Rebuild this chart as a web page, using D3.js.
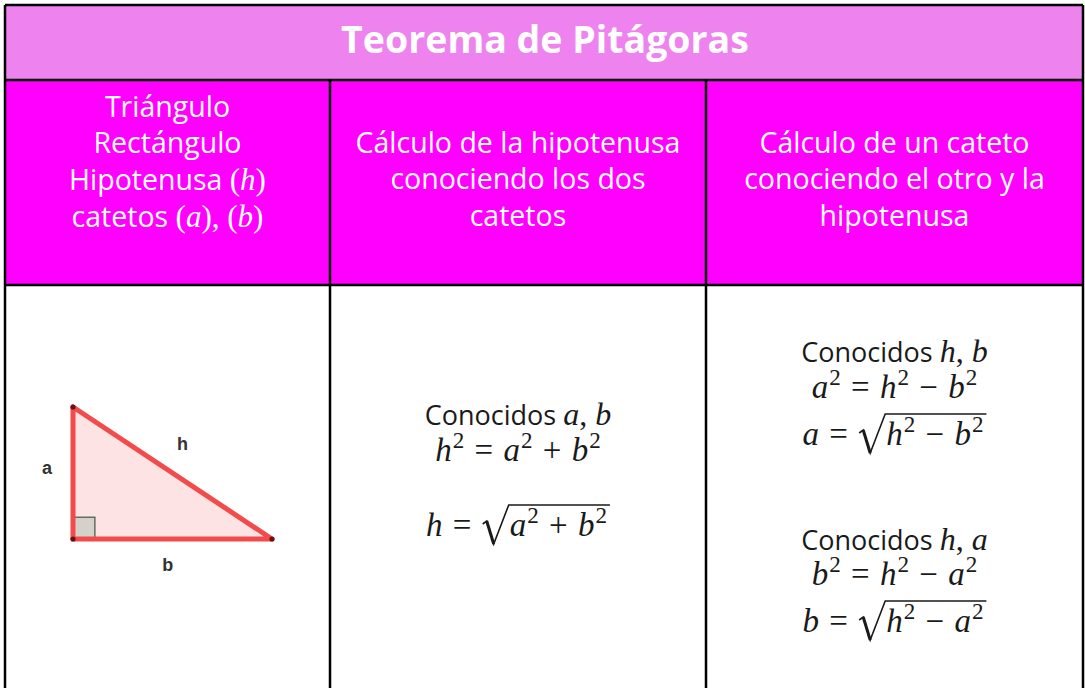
<!DOCTYPE html>
<html>
<head>
<meta charset="utf-8">
<script src="https://cdn.jsdelivr.net/npm/d3@7"></script>
<style>
  html, body { margin: 0; padding: 0; background: #fff; }
  svg { display: block; }
</style>
</head>
<body>
<svg id="chart" width="1085" height="688"></svg>
<script>
// ---------------- DATA ----------------
const title = "Teorema de Pitágoras";

// header cells: each line is a list of [text, kind]  kind: "t" sans text, "v" italic math var, "p" upright math
const headerCol1 = [
  [["Triángulo", "t"]],
  [["Rectángulo", "t"]],
  [["Hipotenusa ", "t"], ["(", "p"], ["h", "v"], [")", "p"]],
  [["catetos ", "t"], ["(", "p"], ["a", "v"], ["), (", "p"], ["b", "v"], [")", "p"]]
];
const headerCol2 = [
  [["Cálculo de la hipotenusa", "t"]],
  [["conociendo los dos", "t"]],
  [["catetos", "t"]]
];
const headerCol3 = [
  [["Cálculo de un cateto", "t"]],
  [["conociendo el otro y la", "t"]],
  [["hipotenusa", "t"]]
];

// triangle legs (relative units) and side labels
const legA = 2;          // vertical cateto
const legB = 3;          // horizontal cateto
const sideLabels = ["a", "h", "b"];

// formulas
const knownCol2 = ["a", "b"];
const relCol2 = { lhs: "h", rhs: ["a", "+", "b"] };
const knownCol3a = ["h", "b"];
const relCol3a = { lhs: "a", rhs: ["h", "−", "b"] };
const knownCol3b = ["h", "a"];
const relCol3b = { lhs: "b", rhs: ["h", "−", "a"] };

// ---------------- LAYOUT ----------------
const svg = d3.select("#chart");
const W = 1085, H = 688;
const colX = [5, 330, 706, 1083];
const rowY = [5, 80, 285, 700];
const sans = "'Open Sans', 'Noto Sans', sans-serif";
const serif = "'Liberation Serif', 'DejaVu Serif', serif";
const HEAD = 28.5;
const MATH = 33;
const SUP = 13;
const OPPAD = 2;

// backgrounds
svg.append("rect").attr("x", colX[0]).attr("y", rowY[0]).attr("width", colX[3] - colX[0]).attr("height", rowY[1] - rowY[0]).attr("fill", "#EE82EE");
svg.append("rect").attr("x", colX[0]).attr("y", rowY[1]).attr("width", colX[3] - colX[0]).attr("height", rowY[2] - rowY[1]).attr("fill", "#FF00FF");
svg.append("rect").attr("x", colX[0]).attr("y", rowY[2]).attr("width", colX[3] - colX[0]).attr("height", rowY[3] - rowY[2]).attr("fill", "#FFFFFF");

// title
svg.append("text")
  .attr("x", (colX[0] + colX[3]) / 2 + 1).attr("y", 53)
  .attr("text-anchor", "middle")
  .attr("font-family", sans).attr("font-weight", 700).attr("font-size", 37.5)
  .attr("fill", "#fff")
  .text(title);

// header text
function headerCell(lines, cx, baselines) {
  lines.forEach((parts, i) => {
    const t = svg.append("text")
      .attr("x", cx).attr("y", baselines[i])
      .attr("text-anchor", "middle").attr("fill", "#fff");
    parts.forEach(([s, k]) => {
      t.append("tspan")
        .attr("font-family", k === "t" ? sans : serif)
        .attr("font-style", k === "v" ? "italic" : "normal")
        .attr("font-size", k === "t" ? HEAD : 31)
        .text(s);
    });
  });
}
headerCell(headerCol1, (colX[0] + colX[1]) / 2, [117, 153, 190, 227]);
headerCell(headerCol2, (colX[1] + colX[2]) / 2, [153, 189, 226]);
headerCell(headerCol3, (colX[2] + colX[3]) / 2, [153, 189, 226]);

// ---------------- TRIANGLE ----------------
const tx = d3.scaleLinear().domain([0, legB]).range([73, 272]);
const ty = d3.scaleLinear().domain([0, legA]).range([539, 407]);
const verts = [[0, legA], [0, 0], [legB, 0]];
const tri = svg.append("g");
tri.append("path")
  .attr("d", d3.line().x(d => tx(d[0])).y(d => ty(d[1]))(verts) + "Z")
  .attr("fill", "#FDE3E3").attr("stroke", "none");
const sq = 0.33;
tri.append("rect")
  .attr("x", tx(0)).attr("y", ty(sq))
  .attr("width", tx(sq) - tx(0)).attr("height", ty(0) - ty(sq))
  .attr("fill", "#D6D0CB").attr("stroke", "#4f5f4f").attr("stroke-width", 1.3);
tri.append("path")
  .attr("d", d3.line().x(d => tx(d[0])).y(d => ty(d[1]))(verts) + "Z")
  .attr("fill", "none").attr("stroke", "#F24B4B").attr("stroke-width", 5)
  .attr("stroke-linejoin", "round");
tri.selectAll("circle").data(verts).join("circle")
  .attr("cx", d => tx(d[0])).attr("cy", d => ty(d[1])).attr("r", 2.6)
  .attr("fill", "#6a1010");
const labelPos = [[-0.39, 1.05], [1.65, 1.42], [1.43, -0.42]];
tri.selectAll("text.side").data(sideLabels).join("text")
  .attr("class", "side")
  .attr("x", (d, i) => tx(labelPos[i][0])).attr("y", (d, i) => ty(labelPos[i][1]))
  .attr("text-anchor", "middle").attr("dominant-baseline", "middle")
  .attr("font-family", "'Liberation Sans', Arial, sans-serif").attr("font-weight", 700)
  .attr("font-size", 18).attr("fill", "#333")
  .text(d => d);

// ---------------- FORMULAS ----------------
function knownLine(cx, y, vars) {
  const t = svg.append("text").attr("x", cx).attr("y", y).attr("text-anchor", "middle").attr("fill", "#1a1a1a");
  t.append("tspan").attr("font-family", sans).attr("font-size", 27).text("Conocidos ");
  t.append("tspan").attr("font-family", serif).attr("font-style", "italic").attr("font-size", 32).text(vars[0]);
  t.append("tspan").attr("font-family", serif).attr("font-size", 32).text(", ");
  t.append("tspan").attr("font-family", serif).attr("font-style", "italic").attr("font-size", 32).text(vars[1]);
}
// tokens: {v: "h", sq: true} or {op: "="}
function writeTokens(t, tokens) {
  let raised = false, afterOp = false;
  tokens.forEach((tk) => {
    const dy = raised ? SUP : 0;
    raised = false;
    if (tk.v) {
      t.append("tspan").attr("font-style", "italic").attr("dy", dy || null)
        .attr("dx", afterOp ? OPPAD : null).text(tk.v);
      afterOp = false;
      if (tk.sq) {
        t.append("tspan").attr("font-size", MATH * 0.7).attr("dy", -SUP).attr("dx", 1).text("2");
        raised = true;
      }
    } else {
      t.append("tspan").attr("dy", dy || null).attr("dx", OPPAD).text("\u00a0" + tk.op + "\u00a0");
      afterOp = true;
    }
  });
}
function mathText(g, x, y) {
  return g.append("text").attr("x", x).attr("y", y).attr("text-anchor", "start")
    .attr("font-family", serif).attr("font-size", MATH).attr("fill", "#1a1a1a");
}
function rhsTokens(rel) {
  return [{ v: rel.rhs[0], sq: true }, { op: rel.rhs[1] }, { v: rel.rhs[2], sq: true }];
}
function squaredLine(cx, y, rel) {
  const g = svg.append("g");
  const t = mathText(g, 0, y);
  writeTokens(t, [{ v: rel.lhs, sq: true }, { op: "=" }].concat(rhsTokens(rel)));
  const w = t.node().getBBox().width;
  g.attr("transform", `translate(${cx - w / 2},0)`);
}
function rootLine(cx, y, rel) {
  const g = svg.append("g");
  const t1 = mathText(g, 0, y);
  writeTokens(t1, [{ v: rel.lhs }, { op: "=" }]);
  const w1 = t1.node().getBBox().width;
  const radW = 27;
  const t2 = mathText(g, w1 + radW + 3, y);
  writeTokens(t2, rhsTokens(rel));
  const w2 = t2.node().getBBox().width;
  const x0 = w1 + 3;
  const top = y - 31, bot = y + 8;
  g.append("path")
    .attr("d", `M${x0},${y - 12} L${x0 + 4},${y - 15} L${x0 + 11},${bot} L${x0 + radW - 1},${top} L${x0 + radW + w2 + 3},${top}`)
    .attr("fill", "none").attr("stroke", "#1a1a1a").attr("stroke-width", 1.6)
    .attr("stroke-linejoin", "miter");
  g.append("path")
    .attr("d", `M${x0 + 4},${y - 15} L${x0 + 11},${bot}`)
    .attr("stroke", "#1a1a1a").attr("stroke-width", 3);
  const total = w1 + radW + w2 + 6;
  g.attr("transform", `translate(${cx - total / 2},0)`);
}

const c2 = (colX[1] + colX[2]) / 2;
const c3 = (colX[2] + colX[3]) / 2;
knownLine(c2, 425, knownCol2);
squaredLine(c2, 461, relCol2);
rootLine(c2, 536, relCol2);

knownLine(c3, 362, knownCol3a);
squaredLine(c3, 398, relCol3a);
rootLine(c3, 445, relCol3a);

knownLine(c3, 550, knownCol3b);
squaredLine(c3, 585, relCol3b);
rootLine(c3, 632, relCol3b);

// ---------------- GRID LINES ----------------
const grid = svg.append("g").attr("stroke", "#000").attr("stroke-width", 2.5);
grid.append("line").attr("x1", colX[0]).attr("x2", colX[3]).attr("y1", rowY[0]).attr("y2", rowY[0]);
grid.append("line").attr("x1", colX[0]).attr("x2", colX[3]).attr("y1", rowY[1]).attr("y2", rowY[1]);
grid.append("line").attr("x1", colX[0]).attr("x2", colX[3]).attr("y1", rowY[2]).attr("y2", rowY[2]);
grid.append("line").attr("x1", colX[0]).attr("x2", colX[0]).attr("y1", rowY[0]).attr("y2", H);
grid.append("line").attr("x1", colX[3]).attr("x2", colX[3]).attr("y1", rowY[0]).attr("y2", H);
grid.append("line").attr("x1", colX[1]).attr("x2", colX[1]).attr("y1", rowY[1]).attr("y2", H);
grid.append("line").attr("x1", colX[2]).attr("x2", colX[2]).attr("y1", rowY[1]).attr("y2", H);
</script>
</body>
</html>
